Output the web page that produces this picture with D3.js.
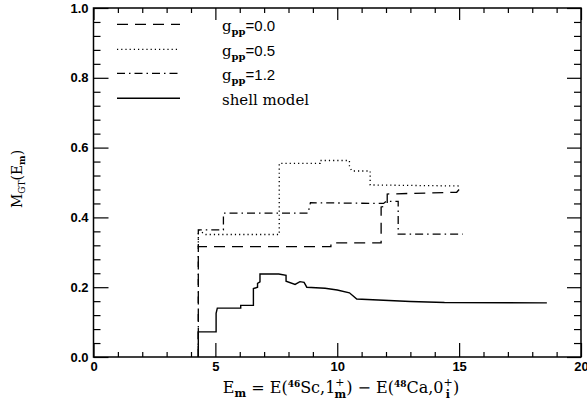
<!DOCTYPE html>
<html>
<head>
<meta charset="utf-8">
<script src="https://cdn.jsdelivr.net/npm/d3@7"></script>
<style>
  body { margin: 0; background: #fff; }
  svg { display: block; }
  .tick text { font-family: "Liberation Sans", Arial, sans-serif; font-weight: bold; font-size: 13px; fill: #000; }
  .tick line { stroke: #000; stroke-width: 1.2; }
  .domain { display: none; }
  .serif { font-family: "DejaVu Serif", serif; fill: #000; }
</style>
</head>
<body>
<div id="chart"></div>
<script>
// M_GT(E_m) running sums vs excitation energy

// data
var legendLabels = ["0.0", "0.5", "1.2"];

var g00E = [4.3, 4.3, 9.74, 9.74, 11.8, 11.8, 12.05, 12.05, 14.9, 15.0];
var g00M = [0.0, 0.316, 0.316, 0.327, 0.327, 0.43, 0.433, 0.467, 0.472, 0.48];

var g05E = [4.3, 4.3, 4.6, 7.62, 7.62, 9.3, 9.3, 10.5, 10.5, 10.6, 11.35, 11.35, 15.0];
var g05M = [0.316, 0.364, 0.351, 0.351, 0.555, 0.555, 0.563, 0.563, 0.545, 0.533, 0.533, 0.493, 0.49];

var g12E = [4.3, 4.3, 5.33, 5.33, 8.8, 8.9, 11.9, 12.0, 12.5, 12.5, 15.15];
var g12M = [0.0, 0.364, 0.364, 0.412, 0.412, 0.442, 0.44, 0.446, 0.446, 0.352, 0.352];

var shellE = [4.3, 4.3, 5.03, 5.03, 5.08, 6.04, 6.04, 6.56, 6.56, 6.73, 6.73, 6.83, 6.83, 7.6, 7.9, 7.9, 8.27, 8.47, 8.64, 8.75, 9.5, 10.0, 10.5, 10.8, 13.0, 14.4, 18.6];
var shellM = [0.0, 0.072, 0.072, 0.125, 0.14, 0.14, 0.148, 0.148, 0.196, 0.2, 0.211, 0.215, 0.238, 0.238, 0.234, 0.217, 0.208, 0.216, 0.214, 0.2, 0.197, 0.192, 0.184, 0.166, 0.159, 0.156, 0.155];

var xMajor = [0, 5, 10, 15, 20];
var yMajor = [0, 0.2, 0.4, 0.6, 0.8, 1.0];

var svgWidth = 587;
var svgHeight = 406;
var margin = { top: 8, right: 6, bottom: 49, left: 93.5 };
var width = svgWidth - margin.left - margin.right;
var height = svgHeight - margin.top - margin.bottom;

var svg = d3.select("#chart")
  .append("svg")
  .attr("width", svgWidth)
  .attr("height", svgHeight);

var chartGroup = svg.append("g")
  .attr("transform", `translate(${margin.left},${margin.top})`);

var xScale = d3.scaleLinear().domain([0, 20]).range([0, width]);
var yScale = d3.scaleLinear().domain([0, 1]).range([height, 0]);

var xMinor = d3.range(0, 20.01, 1).filter(d => d % 5 !== 0);
var yMinor = d3.range(0, 1.001, 0.04).filter(d => Math.abs(d * 5 - Math.round(d * 5)) > 0.01);

// bottom axis
chartGroup.append("g")
  .attr("transform", `translate(0,${height})`)
  .call(d3.axisBottom(xScale).tickValues(xMinor).tickSize(-5).tickFormat(""));
chartGroup.append("g")
  .attr("transform", `translate(0,${height})`)
  .call(d3.axisBottom(xScale).tickValues(xMajor).tickSize(-14).tickPadding(5).tickFormat(d3.format("d")));

// top axis
chartGroup.append("g")
  .call(d3.axisTop(xScale).tickValues(xMinor).tickSize(-5).tickFormat(""));
chartGroup.append("g")
  .call(d3.axisTop(xScale).tickValues(xMajor).tickSize(-12).tickFormat(""));

// left axis
chartGroup.append("g")
  .call(d3.axisLeft(yScale).tickValues(yMinor).tickSize(-7).tickFormat(""));
chartGroup.append("g")
  .call(d3.axisLeft(yScale).tickValues(yMajor).tickSize(-15).tickPadding(5).tickFormat(d3.format(".1f")));

// right axis
chartGroup.append("g")
  .attr("transform", `translate(${width},0)`)
  .call(d3.axisRight(yScale).tickValues(yMinor).tickSize(-7).tickFormat(""));
chartGroup.append("g")
  .attr("transform", `translate(${width},0)`)
  .call(d3.axisRight(yScale).tickValues(yMajor).tickSize(-14).tickFormat(""));

// frame
chartGroup.append("rect")
  .attr("width", width)
  .attr("height", height)
  .attr("fill", "none")
  .attr("stroke", "#000")
  .attr("stroke-width", 1.5);

var series = [
  { E: g00E, M: g00M, dash: "11,7", w: 1.3 },
  { E: g05E, M: g05M, dash: "1.2,3", w: 1.3 },
  { E: g12E, M: g12M, dash: "8,4,1.5,4", w: 1.3 },
  { E: shellE, M: shellM, dash: null, w: 1.4 }
];

var line = d3.line()
  .x(d => xScale(d[0]))
  .y(d => yScale(d[1]));

series.forEach(s => {
  var pts = s.E.map((e, i) => [e, s.M[i]]);
  chartGroup.append("path")
    .datum(pts)
    .attr("d", line)
    .attr("fill", "none")
    .attr("stroke", "#000")
    .attr("stroke-width", s.w)
    .attr("stroke-dasharray", s.dash);
});

// legend
var legendY = [24.3, 49.3, 73.3, 98.3];
series.forEach((s, i) => {
  svg.append("line")
    .attr("x1", 117).attr("x2", 180)
    .attr("y1", legendY[i]).attr("y2", legendY[i])
    .attr("stroke", "#000")
    .attr("stroke-width", s.w)
    .attr("stroke-dasharray", s.dash);
});

legendLabels.forEach((lab, i) => {
  var t = svg.append("text")
    .attr("class", "serif")
    .attr("x", 222)
    .attr("y", legendY[i] + 7)
    .style("font-size", "15px");
  t.append("tspan").text("g");
  t.append("tspan").attr("dy", 4).style("font-size", "10px").style("font-weight", "bold").text("pp");
  t.append("tspan").attr("dy", -4)
    .style("font-family", "'Liberation Sans', Arial, sans-serif")
    .style("font-size", "15px")
    .text("=" + lab);
});

svg.append("text")
  .attr("class", "serif")
  .attr("x", 222)
  .attr("y", legendY[3] + 6.5)
  .style("font-size", "15px")
  .text("shell model");

// y axis title
var yt = svg.append("text")
  .attr("class", "serif")
  .attr("transform", "translate(22,179) rotate(-90)")
  .attr("text-anchor", "middle")
  .style("font-size", "14px");
yt.append("tspan").text("M");
yt.append("tspan").attr("dy", 3).style("font-size", "9px").text("GT");
yt.append("tspan").attr("dy", -3).text("(E");
yt.append("tspan").attr("dy", 3).style("font-size", "9px").style("font-weight", "bold").text("m");
yt.append("tspan").attr("dy", -3).text(")");

// x axis title
var xt = svg.append("text")
  .attr("class", "serif")
  .attr("x", 341)
  .attr("y", 393)
  .attr("text-anchor", "middle")
  .style("font-size", "16px");
xt.append("tspan").text("E");
xt.append("tspan").attr("dy", 4).style("font-size", "11px").style("font-weight", "bold").text("m");
xt.append("tspan").attr("dy", -4).text(" = E(");
xt.append("tspan").attr("dy", -6).style("font-size", "9px").style("font-weight", "bold").text("46");
xt.append("tspan").attr("dy", 6).text("Sc,1");
xt.append("tspan").attr("dy", -7).style("font-size", "11px").text("+");
xt.append("tspan").attr("dx", -10).attr("dy", 12).style("font-size", "11px").style("font-weight", "bold").text("m");
xt.append("tspan").attr("dy", -5).text(") \u2212 E(");
xt.append("tspan").attr("dy", -6).style("font-size", "9px").style("font-weight", "bold").text("48");
xt.append("tspan").attr("dy", 6).text("Ca,0");
xt.append("tspan").attr("dy", -7).style("font-size", "11px").text("+");
xt.append("tspan").attr("dx", -7).attr("dy", 12).style("font-size", "11px").style("font-weight", "bold").text("i");
xt.append("tspan").attr("dx", 3).attr("dy", -5).text(")");
</script>
</body>
</html>
